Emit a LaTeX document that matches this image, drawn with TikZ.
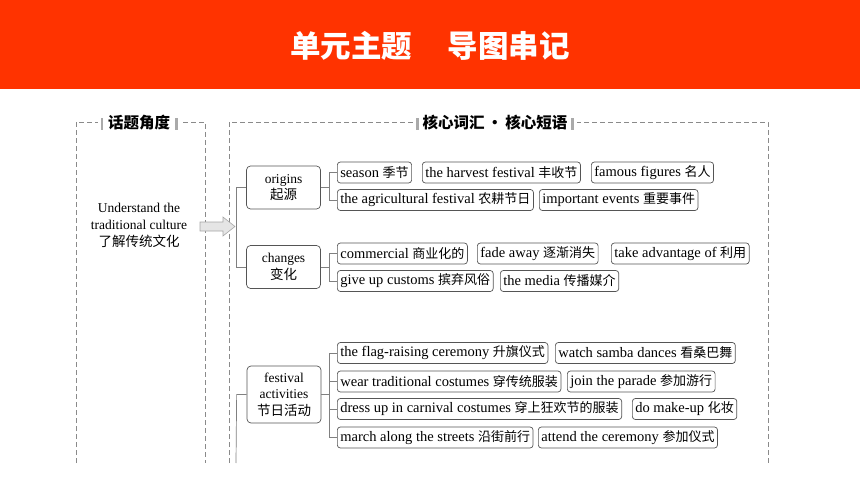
\documentclass[tikz,border=0pt]{standalone}
\usepackage{fontspec}
\setmainfont{Liberation Serif}
\newfontfamily\cjk{Noto Sans CJK SC}
\newcommand{\zh}[1]{{\fontsize{13}{15}\selectfont\cjk #1}}
\definecolor{hdrred}{HTML}{FF3300}
\definecolor{boxgray}{HTML}{555555}
\definecolor{dashgray}{HTML}{8A8A8A}
\definecolor{bargray}{HTML}{AAAAAA}
\newcommand{\tagbar}{{\color{bargray}\rule[-1pt]{2.5pt}{12pt}}}
\begin{document}
\begin{tikzpicture}[x=1pt, y=-1pt,
  leaf/.style={draw=boxgray, line width=0.7pt, rounded corners=3pt, anchor=west, inner xsep=3pt, inner ysep=0pt, minimum height=21pt, font=\fontsize{14.5}{15}\selectfont},
  topic/.style={draw=boxgray, line width=0.7pt, rounded corners=4pt, minimum width=74pt, align=center, inner sep=0pt, font=\fontsize{13.5}{16.5}\selectfont},
  link/.style={draw=gray, line width=0.7pt},
  frame/.style={draw=dashgray, line width=0.6pt, dash pattern=on 5pt off 3pt},
  tag/.style={fill=white, inner xsep=3pt, inner ysep=1pt, font=\fontsize{15.5}{16}\selectfont\cjk\bfseries}]
\useasboundingbox (0,0) rectangle (860,484);
% header
\fill[hdrred] (0,0) rectangle (860,89);
\node[text=white, font=\fontsize{30.5}{31}\selectfont\cjk\bfseries] (title) at (430,46) {单元主题\hspace{36pt}导图串记};
% frames
\draw[frame] (76,463) -- (76,122) -- (205,122) -- (205,463);
\draw[frame] (229,463) -- (229,122) -- (768,122) -- (768,463);
\node[tag] (tagl) at (139,123) {\tagbar\hspace{5pt}话题角度\hspace{5pt}\tagbar};
\node[tag] (tagr) at (495,123) {\tagbar\hspace{4pt}核心词汇\,·\,核心短语\hspace{4pt}\tagbar};
% topic
\node[align=center, font=\fontsize{13.5}{17}\selectfont] (topic) at (139,225) {Understand the\\traditional culture\\{\fontsize{13.5}{17}\selectfont\cjk 了解传统文化}};
\filldraw[fill=gray!20, draw=gray!70, line width=0.6pt] (200,222) -- (223,222) -- (223,217) -- (235,226.5) -- (223,236) -- (223,231) -- (200,231) -- cycle;
% branches
\node[topic, minimum height=43pt] (ori) at (283.5,187.5) {origins\\\zh{\fontsize{13.5}{16}\selectfont 起源}};
\node[topic, minimum height=43pt] (chg) at (283.5,267) {changes\\\zh{\fontsize{13.5}{16}\selectfont 变化}};
\node[topic, minimum height=57pt] (fes) at (284,394.5) {festival\\activities\\\zh{\fontsize{13.5}{16}\selectfont 节日活动}};
\coordinate (tail) at (236,463);
\draw[link] (ori.west) -- ++(-10,0) |- (chg.west);
\draw[link] (fes.west) -- ++(-10,0) -- (tail);
% origins
\node[leaf] (o1) at (337,172.5) {season \zh{季节}};
\node[leaf] (o2) at (422,172.5) {the harvest festival \zh{丰收节}};
\node[leaf] (o3) at (591,172.5) {famous figures \zh{名人}};
\node[leaf] (o4) at (337,200) {the agricultural festival \zh{农耕节日}};
\node[leaf] (o5) at (539,200) {important events \zh{重要事件}};
\draw[link] (ori.east) -- ++(8,0);
\draw[link] (o1.west) -- ++(-8,0) |- (o4.west);
% changes
\node[leaf] (c1) at (337,253.5) {commercial \zh{商业化的}};
\node[leaf] (c2) at (477,253.5) {fade away \zh{逐渐消失}};
\node[leaf] (c3) at (611,253.5) {take advantage of \zh{利用}};
\node[leaf] (c4) at (337,281) {give up customs \zh{摈弃风俗}};
\node[leaf] (c5) at (500,281) {the media \zh{传播媒介}};
\draw[link] (chg.east) -- ++(8,0);
\draw[link] (c1.west) -- ++(-8,0) |- (c4.west);
% festival activities
\node[leaf] (f1) at (337,353) {the flag-raising ceremony \zh{升旗仪式}};
\node[leaf] (f2) at (555,353) {watch samba dances \zh{看桑巴舞}};
\node[leaf] (f3) at (337,381.5) {wear traditional costumes \zh{穿传统服装}};
\node[leaf] (f4) at (567,381.5) {join the parade \zh{参加游行}};
\node[leaf] (f5) at (337,409) {dress up in carnival costumes \zh{穿上狂欢节的服装}};
\node[leaf] (f6) at (632,409) {do make-up \zh{化妆}};
\node[leaf] (f7) at (337,437.5) {march along the streets \zh{沿街前行}};
\node[leaf] (f8) at (538,437.5) {attend the ceremony \zh{参加仪式}};
\draw[link] (fes.east) -- ++(8,0);
\draw[link] (f1.west) -- ++(-8,0) |- (f7.west);
\foreach \n in {f3,f5}
  \draw[link] (\n.west) -- ++(-8,0);
\end{tikzpicture}
\end{document}
